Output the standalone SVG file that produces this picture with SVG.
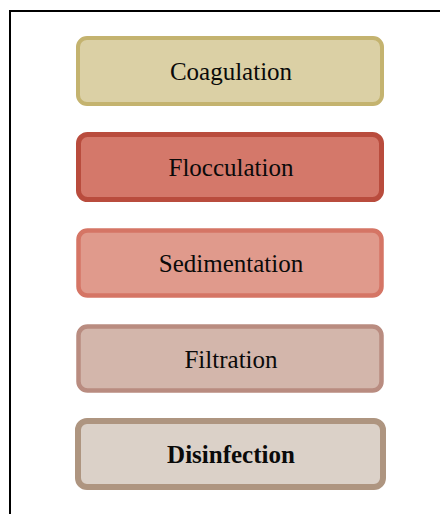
<svg xmlns="http://www.w3.org/2000/svg" width="440" height="514" viewBox="0 0 440 514">
  <style>
    .label { font-family: "Liberation Serif", "Times New Roman", serif; font-size: 25px; fill: #0a0a0a; text-anchor: middle; }
    .bold { font-weight: bold; }
  </style>
  <rect width="440" height="514" fill="#ffffff"/>
  <!-- outer frame -->
  <path d="M10,514 V11 H440" fill="none" stroke="#000" stroke-width="2"/>

  <g id="coagulation">
    <rect x="78" y="38" width="304" height="66" rx="9" fill="#dbd0a5" stroke="#c4b36f" stroke-width="4"/>
    <text class="label" x="231" y="80">Coagulation</text>
  </g>
  <g id="flocculation">
    <rect x="78.5" y="134.5" width="303" height="65" rx="9" fill="#d4786a" stroke="#b94c3d" stroke-width="5"/>
    <text class="label" x="231" y="176">Flocculation</text>
  </g>
  <g id="sedimentation">
    <rect x="78.5" y="230.5" width="303" height="65" rx="9" fill="#e09a8c" stroke="#d57565" stroke-width="4.5"/>
    <text class="label" x="231" y="272">Sedimentation</text>
  </g>
  <g id="filtration">
    <rect x="78.5" y="326.5" width="303" height="64" rx="9" fill="#d3b6ab" stroke="#b98c80" stroke-width="4.5"/>
    <text class="label" x="231" y="367.5">Filtration</text>
  </g>
  <g id="disinfection">
    <rect x="78" y="421" width="305" height="66" rx="9" fill="#dbd1c8" stroke="#ae9580" stroke-width="6"/>
    <text class="label bold" x="231" y="463">Disinfection</text>
  </g>
  <g id="connectors"/>
</svg>
